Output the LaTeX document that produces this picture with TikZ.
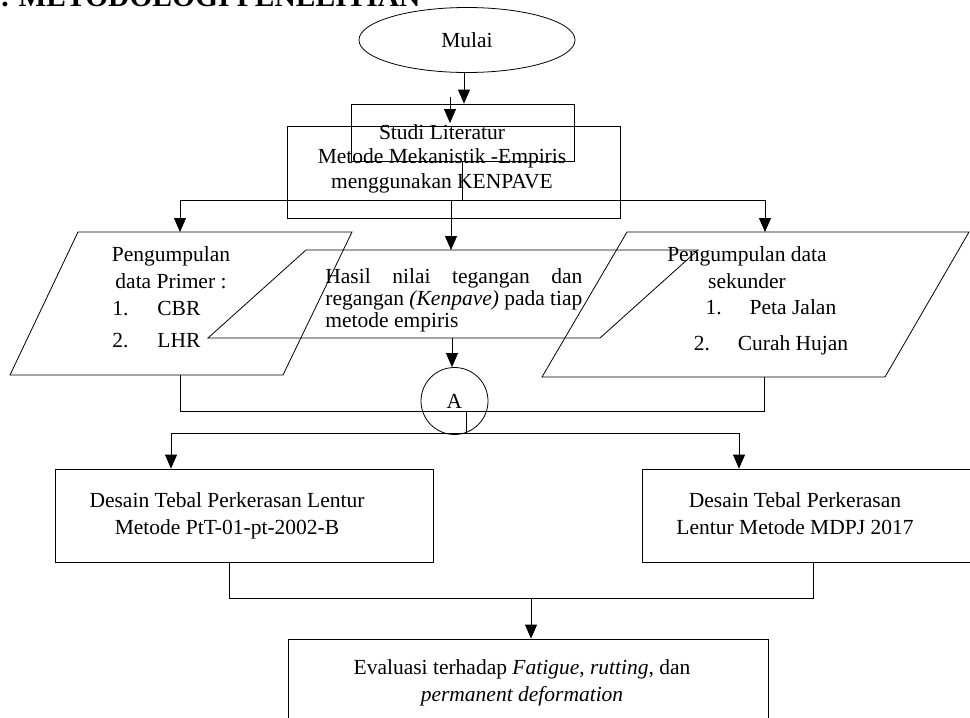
\documentclass[tikz,border=0pt]{standalone}
\usepackage{fontspec}
\setmainfont{Liberation Serif}
\usetikzlibrary{shapes.geometric,arrows.meta}

\begin{document}
\begin{tikzpicture}[x=1pt,y=-1pt,line width=0.8pt,
    arr/.style={-{Triangle[length=14pt,width=12pt]}},
    txt/.style={inner sep=0pt,font=\fontsize{21.5}{27}\selectfont}]

  \useasboundingbox (0,0) rectangle (970,718);
  \clip (0,0) rectangle (970,718);

  \node[anchor=base west,inner sep=0pt,font=\fontsize{29.5}{30}\selectfont\bfseries] (judul) at (1,6) {. METODOLOGI PENELITIAN};

  % kotak
  \begin{scope}[every node/.style={draw,inner sep=0pt,font=\fontsize{21.5}{27}\selectfont}]
    \node[ellipse,minimum width=216,minimum height=65] (mulai) at (467,40) {Mulai};
    \node[minimum width=223,minimum height=57] (studiA) at (462.5,132.5) {};
    \node[minimum width=333,minimum height=92] (studi) at (453.5,172) {};
    \node[circle,minimum size=67] (A) at (454.5,401) {A};
    \node[minimum width=378,minimum height=93] (desain1) at (244,515.5) {};
    \node[minimum width=340,minimum height=93] (desain2) at (812,515.5) {};
    \node[minimum width=480,minimum height=100] (evaluasi) at (528,689) {};
  \end{scope}

  % jajaran genjang
  \draw (78,232) -- (352,232) -- (283,375) -- (10,375) -- cycle;
  \draw (306,250) -- (698,250) -- (600,338) -- (208,338) -- cycle;
  \draw (627,232) -- (969,232) -- (885,377) -- (542,377) -- cycle;

  % teks
  \begin{scope}[every node/.style={txt}]
    \node[anchor=north,align=center,font=\fontsize{21.5}{24.5}\selectfont] (lit) at (442,124)
      {Studi Literatur\\Metode Mekanistik -Empiris\\menggunakan KENPAVE};
    \node[anchor=north,align=center] (primer) at (171,246) {Pengumpulan\\data Primer :};
    \node[anchor=north west,align=left,font=\fontsize{21.5}{32}\selectfont] (primerlist) at (112,301)
      {\makebox[45pt][l]{1.}CBR\\\makebox[45pt][l]{2.}LHR};
    \node[anchor=north west,align=left,font=\fontsize{21.5}{22}\selectfont] (hasil) at (325,268)
      {\makebox[257pt][s]{Hasil nilai tegangan dan}\\\makebox[257pt][s]{regangan \textit{(Kenpave)} pada tiap}\\metode empiris};
    \node[anchor=north,align=center] (sekunder) at (747,246) {Pengumpulan data\\sekunder};
    \node[anchor=north,align=center,font=\fontsize{21.5}{36}\selectfont] (sekunderlist) at (771,299)
      {\makebox[44pt][l]{1.}Peta Jalan\\\makebox[44pt][l]{2.}Curah Hujan};
    \node[anchor=north,align=center] (tdesain1) at (227,492)
      {Desain Tebal Perkerasan Lentur\\Metode PtT-01-pt-2002-B};
    \node[anchor=north,align=center] (tdesain2) at (795,492)
      {Desain Tebal Perkerasan\\Lentur Metode MDPJ 2017};
    \node[anchor=north,align=center] (tevaluasi) at (522,659)
      {Evaluasi terhadap \textit{Fatigue}, \textit{rutting}, dan\\\textit{permanent deformation}};
  \end{scope}

  % titik bantu
  \coordinate (m1) at (464,72);
  \coordinate (s1) at (450,97);
  \coordinate (s2) at (450,123);
  \coordinate (j1) at (462,200);
  \coordinate (j1L) at (180,200);
  \coordinate (j1M) at (451,200);
  \coordinate (j1R) at (765,200);
  \coordinate (pTop) at (180,232);
  \coordinate (hTop) at (451,250);
  \coordinate (sTop) at (765,232);
  \coordinate (pBot) at (180,375);
  \coordinate (hBot) at (452,338);
  \coordinate (sBot) at (764,377);
  \coordinate (j2) at (466,411);
  \coordinate (j3) at (466,433);
  \coordinate (j3L) at (171,433);
  \coordinate (j3R) at (739,433);
  \coordinate (j4L) at (229,598);
  \coordinate (j4M) at (531,598);
  \coordinate (j4R) at (813,598);

  % garis
  \draw[arr] (m1) -- (m1 |- studiA.north);
  \draw[arr] (s1) -- (s2);
  \draw (studiA.south) -- (studiA.south |- j1);
  \draw (j1L) -- (j1R);
  \draw[arr] (j1L) -- (pTop);
  \draw[arr] (j1M) -- (hTop);
  \draw[arr] (j1R) -- (sTop);
  \draw[arr] (hBot) -- (hBot |- A.north);
  \draw (pBot) -- (pBot |- j2) -- (sBot |- j2) -- (sBot);
  \draw (j2) -- (j3);
  \draw (j3L) -- (j3R);
  \draw[arr] (j3L) -- (j3L |- desain1.north);
  \draw[arr] (j3R) -- (j3R |- desain2.north);
  \draw (j4L |- desain1.south) -- (j4L) -- (j4R) -- (j4R |- desain2.south);
  \draw[arr] (j4M) -- (j4M |- evaluasi.north);

\end{tikzpicture}
\end{document}
